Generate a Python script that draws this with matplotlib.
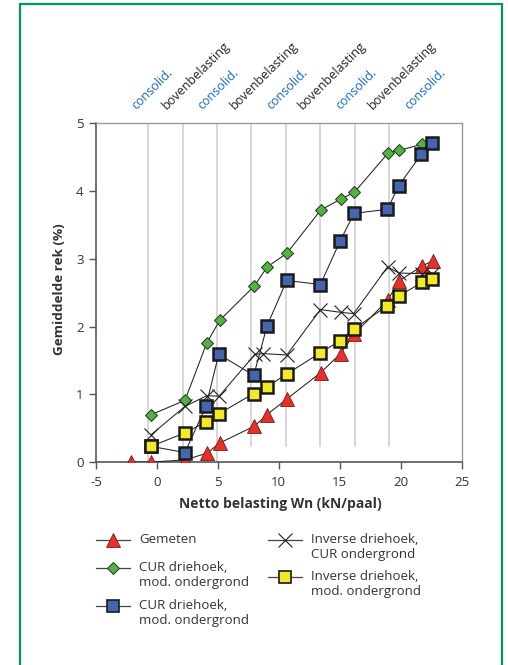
import numpy as np
import matplotlib
matplotlib.use("Agg")
import matplotlib.pyplot as plt
from matplotlib.lines import Line2D
from matplotlib.patches import Rectangle

plt.rcParams["font.family"] = ["Open Sans", "DejaVu Sans"]
plt.rcParams["axes.unicode_minus"] = False

# meetreeksen: netto belasting Wn (kN/paal) tegen gemiddelde rek (%)
gemeten_x = [-2.1, -0.45, 2.3, 4.1, 5.15, 8.0, 9.05, 10.66, 13.45, 15.07, 16.2, 18.95, 19.85, 21.74, 22.62]
gemeten_y = [0.0, 0.0, 0.03, 0.13, 0.28, 0.53, 0.70, 0.93, 1.32, 1.60, 1.89, 2.39, 2.67, 2.89, 2.97]

cur_mod_x = [-0.45, 2.3, 4.1, 5.15, 8.0, 9.05, 10.66, 13.45, 15.07, 16.2, 18.97, 19.87, 21.74, 22.6]
cur_mod_y = [0.70, 0.91, 1.76, 2.09, 2.60, 2.88, 3.08, 3.72, 3.88, 3.98, 4.56, 4.60, 4.69, 4.71]

cur_mod2_x = [-0.45, 2.3, 4.02, 5.07, 7.95, 9.04, 10.66, 13.42, 15.03, 16.18, 18.92, 19.85, 21.7, 22.58]
cur_mod2_y = [0.23, 0.14, 0.82, 1.59, 1.28, 2.01, 2.68, 2.62, 3.26, 3.67, 3.73, 4.08, 4.54, 4.71]

inv_cur_x = [-0.5, 2.3, 4.1, 5.1, 8.05, 8.7, 10.66, 13.42, 15.07, 16.15, 18.93, 19.85, 21.74, 22.6]
inv_cur_y = [0.40, 0.82, 0.98, 0.97, 1.59, 1.60, 1.58, 2.25, 2.21, 2.19, 2.88, 2.79, 2.78, 2.77]

inv_mod_x = [-0.5, 2.3, 4.02, 5.07, 7.93, 9.04, 10.66, 13.4, 15.03, 16.16, 18.92, 19.85, 21.74, 22.6]
inv_mod_y = [0.23, 0.43, 0.59, 0.71, 1.01, 1.11, 1.30, 1.61, 1.79, 1.96, 2.31, 2.45, 2.65, 2.70]

# grenzen tussen de fasen consolidatie / bovenbelasting
fase_grenzen = [-0.7, 2.11, 4.93, 7.75, 10.6, 13.41, 16.23, 19.08]
fase_onder = [0.0, 0.1, 0.0, 0.23, 0.23, 0.23, 0.23, 0.23]
consolid_x = [-2.29, 3.13, 8.79, 14.46, 20.12]
boven_x = [0.25, 5.84, 11.42, 17.17]

W, H = 508, 665
fig = plt.figure(figsize=(W / 100, H / 100), dpi=100)
ax = fig.add_axes([96 / W, 1 - 462 / H, 365.5 / W, 338.7 / H])

for gx, lo in zip(fase_grenzen, fase_onder):
    ax.plot([gx, gx], [lo, 5], color="#d4d4d4", lw=1.3, zorder=1)

lijn = dict(color="#222222", lw=0.75)
ax.plot(cur_mod_x, cur_mod_y, marker="D", ms=6.2, mfc="#55b043", mec="#1e3a14", mew=0.7, zorder=3, **lijn)
ax.plot(gemeten_x, gemeten_y, marker="^", ms=10, mfc="#e8302a", mec="#7a1a14", mew=0.6, zorder=4, **lijn)
ax.plot(inv_cur_x, inv_cur_y, marker="x", ms=10, mec="#222222", mew=0.8, zorder=5, **lijn)
ax.plot(cur_mod2_x, cur_mod2_y, marker="s", ms=8.2, mfc="#4465b0", mec="#1a1a1a", mew=1.8, zorder=6, **lijn)
ax.plot(inv_mod_x, inv_mod_y, marker="s", ms=8.2, mfc="#f2ea26", mec="#1a1a1a", mew=1.8, zorder=7, **lijn)

ax.set_xlim(-5, 25)
ax.set_ylim(0, 5)
ax.set_xticks(np.arange(-5, 26, 5))
ax.set_yticks(np.arange(0, 6, 1))
ax.tick_params(axis="both", direction="out", length=5, width=1, color="#555555",
               labelsize=9.5, labelcolor="#333333")
ax.tick_params(axis="x", pad=5)
ax.tick_params(axis="y", pad=4)
for s in ("left", "bottom"):
    ax.spines[s].set_color("#555555")
    ax.spines[s].set_linewidth(1.2)
for s in ("top", "right"):
    ax.spines[s].set_color("#9a9a9a")
    ax.spines[s].set_linewidth(1.0)

tr = ax.get_xaxis_transform()
for cx in consolid_x:
    ax.text(cx, 1.033, "consolid.", transform=tr, rotation=45, ha="left", va="bottom",
            fontsize=9, color="#1a6bbf", clip_on=False)
for bx in boven_x:
    ax.text(bx, 1.033, "bovenbelasting", transform=tr, rotation=45, ha="left", va="bottom",
            fontsize=9, color="#222222", clip_on=False)

fig.text(280.5 / W, 1 - 504 / H, "Netto belasting Wn (kN/paal)", ha="center", va="center",
         fontsize=10, fontweight="bold", color="#333333")
fig.text(59.3 / W, 1 - 289 / H, "Gemiddelde rek (%)", ha="center", va="center", rotation=90,
         fontsize=9.7, fontweight="bold", color="#333333")

# legenda, handgetekend zodat het symbool bij de eerste tekstregel staat
legenda = [
    (96, 540, dict(marker="^", ms=10, mfc="#e8302a", mec="#7a1a14", mew=0.6), "Gemeten"),
    (96, 568, dict(marker="D", ms=6.2, mfc="#55b043", mec="#1e3a14", mew=0.7), "CUR driehoek,\nmod. ondergrond"),
    (96, 606, dict(marker="s", ms=8.2, mfc="#4465b0", mec="#1a1a1a", mew=1.2), "CUR driehoek,\nmod. ondergrond"),
    (268, 540, dict(marker="x", ms=10, mec="#222222", mew=0.8), "Inverse driehoek,\nCUR ondergrond"),
    (268, 577, dict(marker="s", ms=8.2, mfc="#f2ea26", mec="#1a1a1a", mew=1.2), "Inverse driehoek,\nmod. ondergrond"),
]
for x0, y0, stijl, tekst in legenda:
    yf = 1 - y0 / H
    fig.add_artist(Line2D([x0 / W, (x0 + 34) / W], [yf, yf], color="#444444", lw=0.9))
    fig.add_artist(Line2D([(x0 + 17) / W], [yf], linestyle="none", **stijl))
    fig.text((x0 + 43) / W, yf + 7 / H, tekst, ha="left", va="top", fontsize=9.5,
             color="#333333", linespacing=1.2)

fig.add_artist(Rectangle((20 / W, -0.02), 481.5 / W, 1 - 4 / H + 0.02, transform=fig.transFigure,
                         fill=False, edgecolor="#00995a", lw=1.6))

fig.savefig("out.png", dpi=100)
